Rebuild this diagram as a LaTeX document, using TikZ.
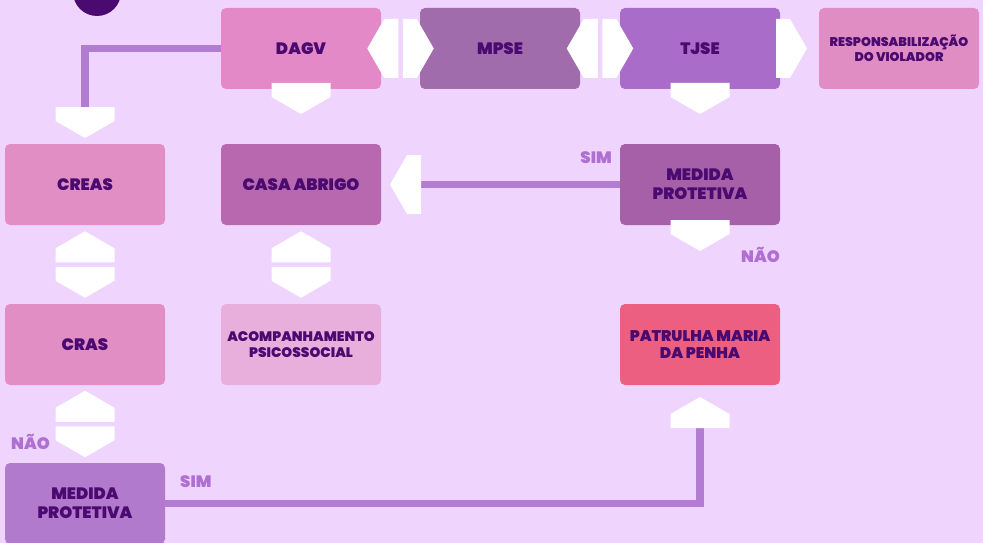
\documentclass[tikz,border=0pt]{standalone}
\usepackage{fontspec}
\setmainfont{Poppins}[BoldFont={Poppins Black}]
\usepackage{xcolor}
\definecolor{bglilac}{HTML}{EFD4FE}
\definecolor{inkpurple}{HTML}{4B0A70}
\definecolor{linkpurple}{HTML}{B37CD3}
\definecolor{tagpurple}{HTML}{B070D2}
\definecolor{dagvpink}{HTML}{E389C8}
\definecolor{mpsepurple}{HTML}{A06CAC}
\definecolor{tjsepurple}{HTML}{A96DC9}
\definecolor{resppink}{HTML}{E08DC4}
\definecolor{creaspink}{HTML}{E08EC4}
\definecolor{abrigopurple}{HTML}{B868AE}
\definecolor{medidapurple}{HTML}{A660A8}
\definecolor{acomppink}{HTML}{E8AFDD}
\definecolor{patrulharose}{HTML}{EC5F80}
\definecolor{lowpurple}{HTML}{B17ACC}
\usepackage{tikz}
\usetikzlibrary{positioning,calc}

\begin{document}
\begin{tikzpicture}[
        node distance=40pt,
        box/.style={rectangle, rounded corners=5pt, minimum width=160pt, minimum height=81pt, inner sep=2pt, outer sep=0pt, align=center, text=inkpurple, font=\bfseries\fontsize{16.5}{18.7}\selectfont},
        tag/.style={inner sep=0pt, text=tagpurple, font=\bfseries\fontsize{16.5}{16.5}\selectfont},
        link/.style={draw=linkpurple, line width=7.5pt},
        pics/halfarrow/.style={code={\fill[white] (0pt,-29.5pt) -- (14pt,-29.5pt) -- (31pt,0pt) -- (14pt,29.5pt) -- (0pt,29.5pt) -- cycle;}},
        pics/twoway/.style={code={
            \fill[white] (2.25pt,-29.5pt) -- (16.25pt,-29.5pt) -- (33.25pt,0pt) -- (16.25pt,29.5pt) -- (2.25pt,29.5pt) -- cycle;
            \fill[white] (-2.25pt,-29.5pt) -- (-16.25pt,-29.5pt) -- (-33.25pt,0pt) -- (-16.25pt,29.5pt) -- (-2.25pt,29.5pt) -- cycle;}}
    ]

        % Background
        \fill[bglilac] (0,0) rectangle (983pt,-543pt);
        \useasboundingbox (0,0) rectangle (983pt,-543pt);
        \node[circle, fill=inkpurple, minimum size=48pt, inner sep=0pt] (badge) at (97pt,8pt) {};

        % First row
        \node[box, fill=dagvpink] (dagv) at (301pt,-48.5pt) {DAGV};
        \node[box, fill=mpsepurple, right=39pt of dagv] (mpse) {MPSE};
        \node[box, fill=tjsepurple, right=of mpse] (tjse) {TJSE};
        \node[box, fill=resppink, right=39pt of tjse, font=\bfseries\fontsize{12.6}{14.7}\selectfont] (resp) {RESPONSABILIZAÇÃO\\DO VIOLADOR};

        % Second row
        \node[box, fill=abrigopurple, below=55pt of dagv] (abrigo) {CASA ABRIGO};
        \node[box, fill=creaspink, left=56pt of abrigo] (creas) {CREAS};
        \node[box, fill=medidapurple, below=55pt of tjse] (medida) {MEDIDA\\PROTETIVA};

        % Third row
        \node[box, fill=creaspink, below=79pt of creas] (cras) {CRAS};
        \node[box, fill=acomppink, below=79pt of abrigo, font=\bfseries\fontsize{13.8}{15.2}\selectfont] (acomp) {ACOMPANHAMENTO\\PSICOSSOCIAL};
        \node[box, fill=patrulharose, below=79pt of medida, font=\bfseries\fontsize{15.4}{17}\selectfont] (patrulha) {PATRULHA MARIA\\DA PENHA};

        % Last row
        \node[box, fill=lowpurple, below=78pt of cras] (medidab) {MEDIDA\\PROTETIVA};

        % Lines
        \coordinate[above=37pt of creas.north] (creasin);
        \coordinate[right=40pt of abrigo.east] (abrigoin);
        \coordinate[below=43pt of patrulha.south] (patrulhain);
        \draw[link] (dagv.west) -| (creasin);
        \draw[link] (medida.west) -- (abrigoin);
        \draw[link] (medidab.east) -| (patrulhain);

        % Arrows
        \pic at ($(dagv.east)!0.5!(mpse.west)$) {twoway};
        \pic at ($(mpse.east)!0.5!(tjse.west)$) {twoway};
        \pic at ([xshift=-4pt]tjse.east) {halfarrow};
        \pic[rotate=-90] at ([yshift=6pt]dagv.south) {halfarrow};
        \pic[rotate=-90] at ([yshift=6pt]tjse.south) {halfarrow};
        \pic[rotate=-90] at ([yshift=5pt]medida.south) {halfarrow};
        \pic[rotate=-90] at (creasin) {halfarrow};
        \pic[rotate=180] at (abrigoin) {halfarrow};
        \pic[rotate=90] at (patrulhain) {halfarrow};
        \pic[rotate=-90] at ($(creas.south)!0.5!(cras.north)$) {twoway};
        \pic[rotate=-90] at ($(abrigo.south)!0.5!(acomp.north)$) {twoway};
        \pic[rotate=-90] at ($(cras.south)!0.5!(medidab.north)$) {twoway};

        % Labels
        \node[tag, anchor=base east] (simtop) at ([xshift=-8pt, yshift=-19pt]medida.north west) {SIM};
        \node[tag, anchor=base east] (naotop) at ([yshift=-37pt]medida.south east) {NÃO};
        \node[tag, anchor=base west] (naolow) at ([xshift=6pt, yshift=14pt]medidab.north west) {NÃO};
        \node[tag, anchor=base west] (simlow) at ([xshift=15pt, yshift=-24pt]medidab.north east) {SIM};

    \end{tikzpicture}
\end{document}
